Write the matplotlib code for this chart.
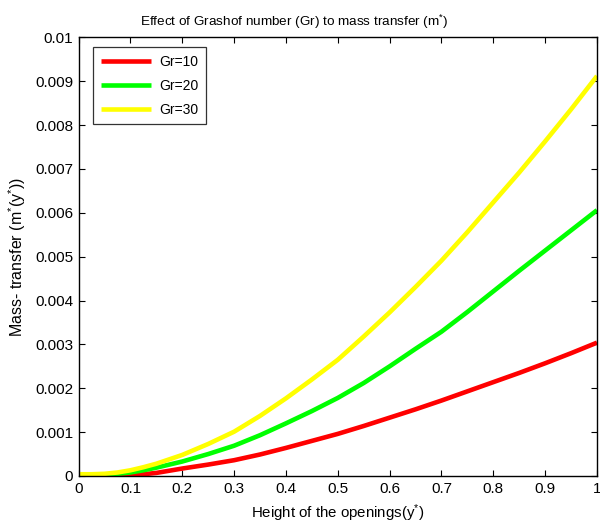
import numpy as np
import matplotlib
matplotlib.use("Agg")
import matplotlib.pyplot as plt

plt.rcParams['font.family'] = ['Liberation Sans', 'DejaVu Sans']
plt.rcParams['mathtext.fontset'] = 'custom'
plt.rcParams['mathtext.rm'] = 'Liberation Sans'
plt.rcParams['mathtext.it'] = 'Liberation Sans'

# Height of the openings y*
y_star = [0.0, 0.025, 0.05, 0.075, 0.1, 0.125, 0.15, 0.175, 0.2,
          0.25, 0.3, 0.35, 0.4, 0.45, 0.5, 0.55, 0.6, 0.65, 0.7,
          0.75, 0.8, 0.85, 0.9, 0.95, 1.0]

# Mass transfer m*(y*) for each Grashof number
m_gr10 = [0.0, 0.0, 0.0, 0.0, 0.00001, 0.00004, 0.00007, 0.00012, 0.00017,
          0.00026, 0.00036, 0.00049, 0.00064, 0.0008, 0.00096, 0.00114,
          0.00133, 0.00152, 0.00172, 0.00193, 0.00214, 0.00235, 0.00257,
          0.0028, 0.00304]
m_gr20 = [0.00003, 0.00003, 0.00003, 0.00005, 0.00008, 0.00013, 0.00019,
          0.00026, 0.00033, 0.0005, 0.00069, 0.00093, 0.0012, 0.00148,
          0.00178, 0.00212, 0.0025, 0.0029, 0.00329, 0.00374, 0.00421,
          0.00468, 0.00514, 0.0056, 0.00606]
m_gr30 = [0.00004, 0.00004, 0.00005, 0.00008, 0.00013, 0.0002, 0.00028,
          0.00038, 0.00048, 0.00073, 0.00101, 0.00137, 0.00177, 0.0022,
          0.00265, 0.00318, 0.00373, 0.00431, 0.00491, 0.00556, 0.00624,
          0.00692, 0.00763, 0.00836, 0.00912]

series_labels = ['Gr=10', 'Gr=20', 'Gr=30']
series_colors = ['#ff0000', '#00ff00', '#ffff00']

x_ticks = [0, 0.1, 0.2, 0.3, 0.4, 0.5, 0.6, 0.7, 0.8, 0.9, 1]
x_tick_labels = ['0', '0.1', '0.2', '0.3', '0.4', '0.5', '0.6', '0.7', '0.8', '0.9', '1']
y_ticks = [0, 0.001, 0.002, 0.003, 0.004, 0.005, 0.006, 0.007, 0.008, 0.009, 0.01]
y_tick_labels = ['0', '0.001', '0.002', '0.003', '0.004', '0.005', '0.006',
                 '0.007', '0.008', '0.009', '0.01']

fs_tick = 11
fs_xlabel = 10.8
fs_ylabel = 11.5
fs_title = 9.7
fs_leg = 10

fig = plt.figure(figsize=(6.0, 5.31), dpi=100)
ax = fig.add_axes([0.131, 0.1036, 0.864, 0.826])

for vals, lab, col in zip([m_gr10, m_gr20, m_gr30], series_labels, series_colors):
    ax.plot(y_star, vals, color=col, linewidth=3.3, label=lab,
            solid_capstyle='butt', solid_joinstyle='round')

ax.set_xlim(0, 1)
ax.set_ylim(0, 0.01)
ax.set_xticks(x_ticks)
ax.set_xticklabels(x_tick_labels)
ax.set_yticks(y_ticks)
ax.set_yticklabels(y_tick_labels)
ax.tick_params(direction='in', top=True, right=True, length=4, width=0.8,
               labelsize=fs_tick)
ax.tick_params(axis='x', pad=4.5)
ax.tick_params(axis='y', pad=4)
for sp in ax.spines.values():
    sp.set_linewidth(1.0)

ax.set_title('Effect of Grashof number (Gr) to mass transfer (m$^{*}$)',
             fontsize=fs_title, pad=8, x=0.4156)
ax.set_xlabel('Height of the openings(y$^{*}$)', fontsize=fs_xlabel, labelpad=4.5)
ax.set_ylabel('Mass- transfer (m$^{*}$(y$^{*}$))', fontsize=fs_ylabel, labelpad=5)

leg = ax.legend(loc='upper left', bbox_to_anchor=(0.028, 0.977), fontsize=fs_leg,
                frameon=True, fancybox=False, edgecolor='black',
                handlelength=3.6, handletextpad=0.6, borderpad=0.55,
                labelspacing=0.7, borderaxespad=0)
leg.get_frame().set_linewidth(0.9)

fig.savefig('out.png', dpi=100, facecolor='white')
